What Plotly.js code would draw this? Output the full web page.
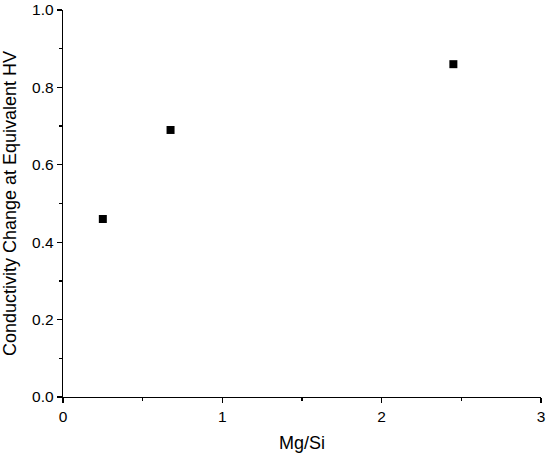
<!DOCTYPE html>
<html><head><meta charset="utf-8">
<script src="https://cdn.plot.ly/plotly-3.0.1.min.js"></script>
<style>html,body{margin:0;padding:0;background:#fff}</style>
</head><body>
<div id="chart" style="width:550px;height:457px"></div>
<script>
const mgSi = [0.25, 0.675, 2.45];
const condChange = [0.46, 0.69, 0.86];
const xTicks = [0, 1, 2, 3];
const yTicks = [0.0, 0.2, 0.4, 0.6, 0.8, 1.0];

const font = 'Liberation Sans, Arial, sans-serif';
Plotly.newPlot('chart', [{
  x: mgSi, y: condChange, type: 'scatter', mode: 'markers',
  marker: {symbol: 'square', size: 8, color: '#000'}
}], {
  width: 550, height: 457,
  margin: {l: 63, r: 9, t: 10, b: 60},
  showlegend: false,
  paper_bgcolor: '#fff', plot_bgcolor: '#fff',
  font: {family: font, color: '#000', size: 15.5},
  xaxis: {
    range: [0, 3], tickvals: xTicks, ticktext: xTicks.map(String),
    showgrid: false, zeroline: false, showline: true, linecolor: '#000', linewidth: 1.3,
    ticks: 'outside', ticklen: 5, tickwidth: 1.3, tickcolor: '#000',
    minor: {dtick: 0.5, tick0: 0, ticks: 'outside', ticklen: 3, tickwidth: 1.3, tickcolor: '#000', showgrid: false},
    title: {text: 'Mg/Si', font: {size: 18}, standoff: 12},
    tickfont: {size: 15.5}
  },
  yaxis: {
    range: [0, 1], tickvals: yTicks, ticktext: yTicks.map(v => v.toFixed(1)),
    showgrid: false, zeroline: false, showline: true, linecolor: '#000', linewidth: 1.3,
    ticks: 'outside', ticklen: 5, tickwidth: 1.3, tickcolor: '#000',
    minor: {dtick: 0.1, tick0: 0, ticks: 'outside', ticklen: 3, tickwidth: 1.3, tickcolor: '#000', showgrid: false},
    title: {text: 'Conductivity Change at Equivalent HV', font: {size: 18}, standoff: 10},
    tickfont: {size: 15.5}
  }
}, {displayModeBar: false, staticPlot: true});
</script>
</body></html>
